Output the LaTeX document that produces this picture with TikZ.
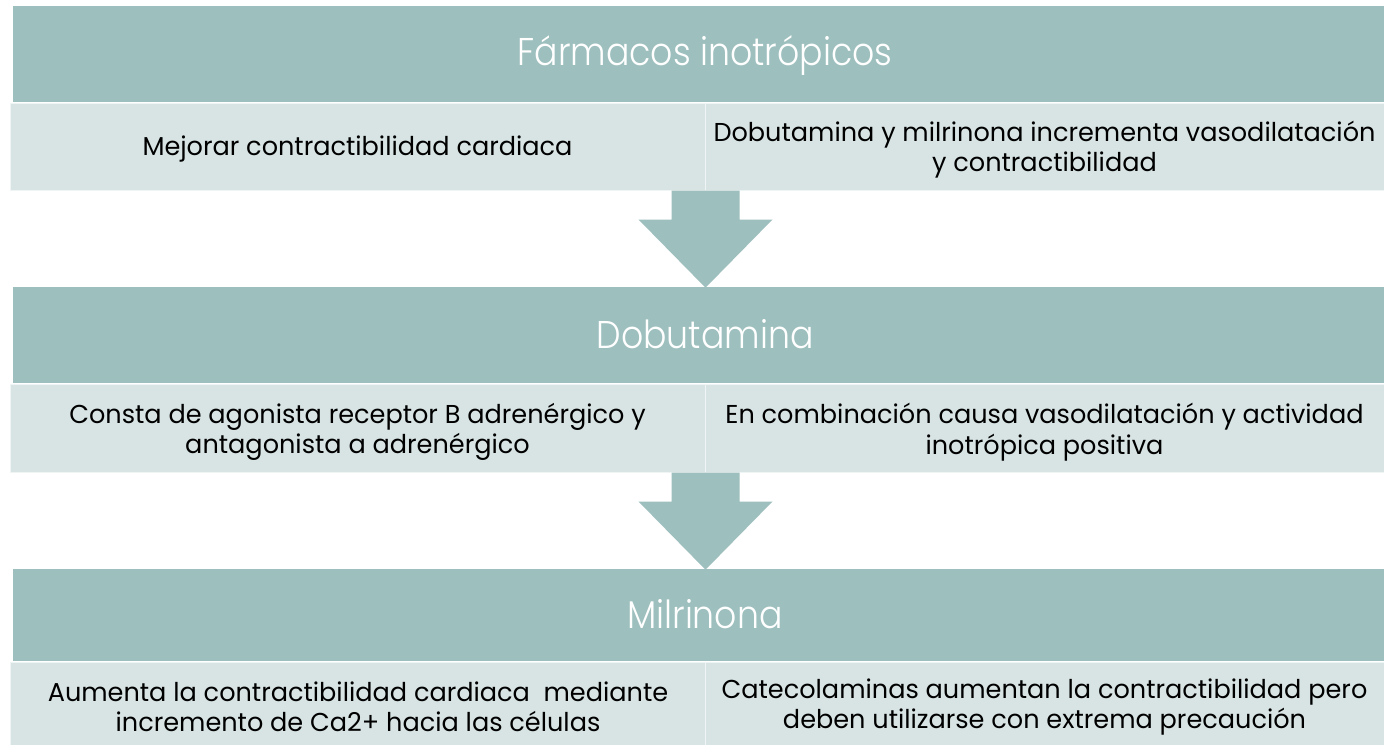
\documentclass[tikz,border=0pt]{standalone}
\usepackage{fontspec}
\usetikzlibrary{calc,fit}
\setmainfont{Poppins}
\newfontfamily\probefont{Poppins Light}
\newfontfamily\probefontb{Poppins}
\newlength\probelen
\settowidth\probelen{\probefont\fontsize{29}{34}\selectfont Fármacos inotrópicos}
\pgfmathsetmacro\headratio{281.25/\probelen}
\settowidth\probelen{\probefontb\fontsize{19.4}{22.5}\selectfont Mejorar contractibilidad cardiaca}
\pgfmathsetmacro\bodyratio{322.5/\probelen}
\edef\tmpa{\noexpand\newfontfamily\noexpand\headfont{Poppins Light}[FakeStretch=\headratio]}\tmpa
\edef\tmpb{\noexpand\newfontfamily\noexpand\bodyfont{Poppins}[FakeStretch=\bodyratio]}\tmpb
\definecolor{headcol}{HTML}{9DBFBE}
\definecolor{subcol}{HTML}{D8E4E4}
\tikzset{
  headbox/.style={fill=headcol, draw=none, inner sep=0pt},
  subbox/.style={fill=subcol, draw=white!60!subcol, line width=0.75pt, inner sep=0pt},
  headtext/.style={text=white, inner sep=0pt, font=\headfont\fontsize{29}{34}\selectfont},
  bodytext/.style={text=black, inner sep=0pt, align=center, font=\bodyfont\fontsize{19.4}{22.8}\selectfont},
  arrowfill/.style={fill=headcol, draw=none}
}
\begin{document}
\begin{tikzpicture}[x=0.75pt,y=-0.75pt]
\useasboundingbox[fill=white] (0,0) rectangle (1384,744);
% section 1
\node[headbox, fit={(13,6)(1384,102)}] (h1) {};
\node[subbox, fit={(10,103)(705,190)}] (s1l) {};
\node[subbox, fit={(705,103)(1384,190)}] (s1r) {};
\node[headtext, anchor=base] (t1) at (705,65) {Fármacos inotrópicos};
\node[bodytext, anchor=base] (b1l) at (357.5,155) {Mejorar contractibilidad cardiaca};
\node[bodytext] (b1r) at ($(s1r.center)+(0,3)$) {Dobutamina y milrinona incrementa vasodilatación\\y contractibilidad};
% section 2
\node[headbox, fit={(13,287)(1384,383)}] (h2) {};
\node[subbox, fit={(10,384)(705,472)}] (s2l) {};
\node[subbox, fit={(705,384)(1384,472)}] (s2r) {};
\node[headtext, anchor=base] (t2) at (705,348) {Dobutamina};
\node[bodytext] (b2l) at ($(s2l.center)+(0,4)$) {Consta de agonista receptor B adrenérgico y\\antagonista a adrenérgico};
\node[bodytext] (b2r) at ($(s2r.center)+(0,4)$) {En combinación causa vasodilatación y actividad\\inotrópica positiva};
% section 3
\node[headbox, fit={(13,569)(1384,661)}] (h3) {};
\node[subbox, fit={(10,662)(705,750)}] (s3l) {};
\node[subbox, fit={(705,662)(1384,750)}] (s3r) {};
\node[headtext, anchor=base] (t3) at (705,628) {Milrinona};
\node[bodytext] (b3l) at (358,707) {Aumenta la contractibilidad cardiaca~ mediante\\incremento de Ca2+ hacia las células};
\node[bodytext] (b3r) at (1044.5,707) {Catecolaminas aumentan la contractibilidad pero\\deben utilizarse con extrema precaución};
% arrows
\coordinate (a1top) at (s1l.south east);
\coordinate (a1tip) at (h2.north -| a1top);
\fill[arrowfill] ($(a1top)+(-34,0)$) -- ($(a1top)+(34,0)$) -- ($(a1top)+(34,29)$) -- ($(a1top)+(67,29)$)
  -- ($(a1tip)+(0,1)$) -- ($(a1top)+(-67,29)$) -- ($(a1top)+(-34,29)$) -- cycle;
\coordinate (a2top) at (s2l.south east);
\coordinate (a2tip) at (h3.north -| a2top);
\fill[arrowfill] ($(a2top)+(-34,0)$) -- ($(a2top)+(34,0)$) -- ($(a2top)+(34,29)$) -- ($(a2top)+(67,29)$)
  -- ($(a2tip)+(0,1)$) -- ($(a2top)+(-67,29)$) -- ($(a2top)+(-34,29)$) -- cycle;
\end{tikzpicture}
\end{document}
